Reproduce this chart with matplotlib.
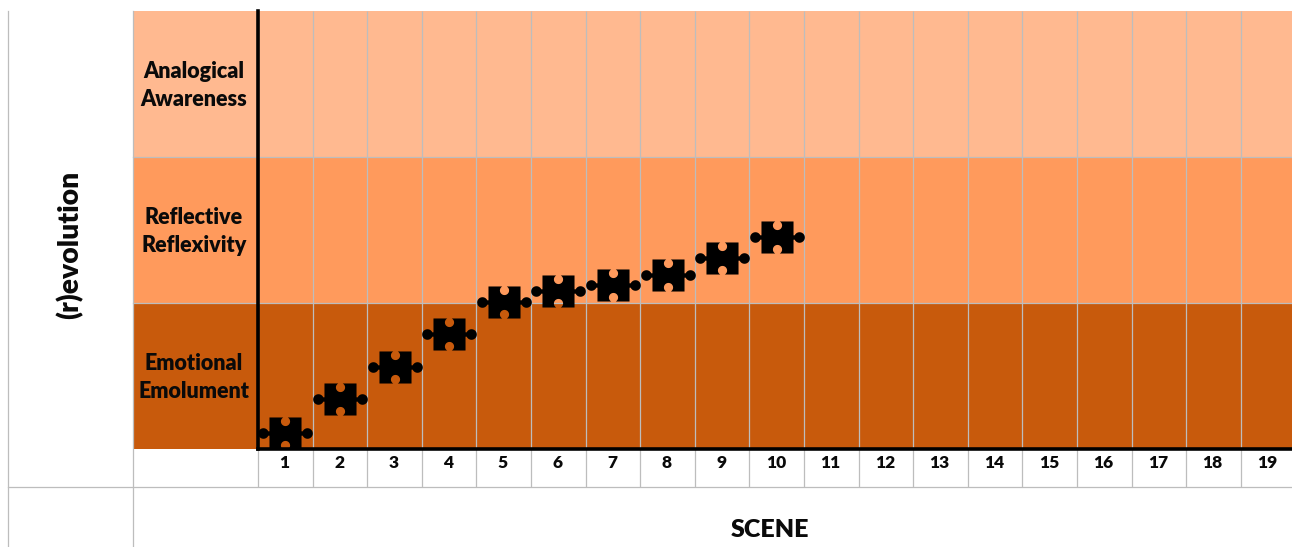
import numpy as np
import matplotlib
matplotlib.use("Agg")
import matplotlib.pyplot as plt
from matplotlib.lines import Line2D
from matplotlib.path import Path
from matplotlib.transforms import ScaledTranslation

# ---- data ----
scenes = list(range(1, 20))
plotted_scenes = [1, 2, 3, 4, 5, 6, 7, 8, 9, 10]
revolution_level = [0.11, 0.34, 0.56, 0.79, 1.01, 1.08, 1.12, 1.195, 1.31, 1.45]
level_names = ["Emotional\nEmolument", "Reflective\nReflexivity", "Analogical\nAwareness"]
level_colors = ["#C85A0C", "#FF9A5C", "#FFB990"]
x_title = "SCENE"
y_title = "(r)evolution"

plt.rcParams["font.family"] = ["Lato", "DejaVu Sans"]
W, H, DPI = 1292, 547, 100
GRID = "#BDBDBD"
TEXT = "#0A0A0A"
WEIGHT = "heavy"
px = 72 / DPI


def arc(cx, cy, r, a0, a1, n=24):
    t = np.radians(np.linspace(a0, a1, n))
    return np.column_stack([cx + r * np.cos(t), cy + r * np.sin(t)])


def puzzle_marker():
    """Jigsaw-piece outline: square body, side knobs, top and bottom notches."""
    s, kx, kr, nk = 16.0, 22.0, 5.3, 2.2
    ny, nr = 12.0, 4.6
    knob_a = np.degrees(np.arcsin(nk / kr))
    notch_a = np.degrees(np.arccos((s - ny) / nr))
    pts = [
        [(-s, -s)],
        arc(0, -ny, nr, 270 - notch_a, 270 - 360 + notch_a),  # bottom notch
        [(s, -s), (s, -nk)],
        arc(kx, 0, kr, -180 + knob_a, 180 - knob_a),          # right knob
        [(s, nk), (s, s)],
        arc(0, ny, nr, 90 - notch_a, 90 - 360 + notch_a),     # top notch
        [(-s, s), (-s, nk)],
        arc(-kx, 0, kr, knob_a, 360 - knob_a),                # left knob
        [(-s, -nk), (-s, -s)],
    ]
    verts = np.vstack([np.asarray(p, dtype=float) for p in pts])
    return Path(verts, closed=True)


fig = plt.figure(figsize=(W / DPI, H / DPI), dpi=DPI, facecolor="white")
L, R, T, B = 258, 1292, 11, 449
ax = fig.add_axes([L / W, 1 - B / H, (R - L) / W, (B - T) / H])
col = 54.6
ax.set_xlim(0.5, 0.5 + (R - L) / col)
ax.set_ylim(0, 3)
ax.patch.set_visible(False)

# bands, extended over the row-label column
xmin = (133 - L) / (R - L)
for i, c in enumerate(level_colors):
    ax.axhspan(i, i + 1, xmin=xmin, xmax=1, color=c, lw=0, zorder=0, clip_on=False)

# table grid
low = -(487 - B) / ((B - T) / 3)
ax.vlines([s + 0.5 for s in scenes], low, 3, color=GRID, lw=0.9, zorder=1, clip_on=False)
ax.vlines(0.5, low, 0, color=GRID, lw=0.9, zorder=1, clip_on=False)
for lv in (1, 2):
    ax.axhline(lv, xmin=xmin, xmax=1, color=GRID, lw=0.9, zorder=1, clip_on=False)


def frame(xs, ys):
    fig.add_artist(Line2D(np.array(xs) / W, 1 - np.array(ys) / H, color=GRID, lw=0.9,
                          transform=fig.transFigure, zorder=1))


frame([8, 8], [11, 547])
frame([133, 133], [11, 547])
frame([8, 1292], [487, 487])

# puzzle-piece series
ax.plot(plotted_scenes, revolution_level, ls="none", marker=puzzle_marker(),
        ms=54.6 * px, mfc="black", mec="none", zorder=4)

# axes
for s in ("top", "right"):
    ax.spines[s].set_visible(False)
for s in ("left", "bottom"):
    ax.spines[s].set_linewidth(3.6 * px)
    ax.spines[s].set_color("black")
    ax.spines[s].set_zorder(5)

ax.set_xticks(scenes)
ax.set_xticklabels([str(s) for s in scenes], fontsize=12.5, fontweight=WEIGHT, color=TEXT)
ax.tick_params(axis="x", length=0, pad=4)
ax.set_yticks([0.5, 1.5, 2.5])
ax.set_yticklabels(level_names, fontsize=15.5, fontweight=WEIGHT, color=TEXT,
                   ha="center", linespacing=1.4)
ax.tick_params(axis="y", length=0, pad=63 * px)

# small optical nudges of the tick labels
shift_y = ScaledTranslation(-1 / DPI, 3.5 / DPI, fig.dpi_scale_trans)
for lbl in ax.get_yticklabels():
    lbl.set_transform(lbl.get_transform() + shift_y)
shift_x = ScaledTranslation(-0.8 / DPI, 0, fig.dpi_scale_trans)
for lbl in ax.get_xticklabels():
    lbl.set_transform(lbl.get_transform() + shift_x)

fig.text(70 / W, 1 - 245 / H, y_title, rotation=90, ha="center", va="center",
         fontsize=20.3, fontweight=WEIGHT, color=TEXT)
fig.text(770 / W, 1 - 530 / H, x_title, ha="center", va="center",
         fontsize=18, fontweight=WEIGHT, color=TEXT)

fig.savefig("out.png", dpi=DPI)
